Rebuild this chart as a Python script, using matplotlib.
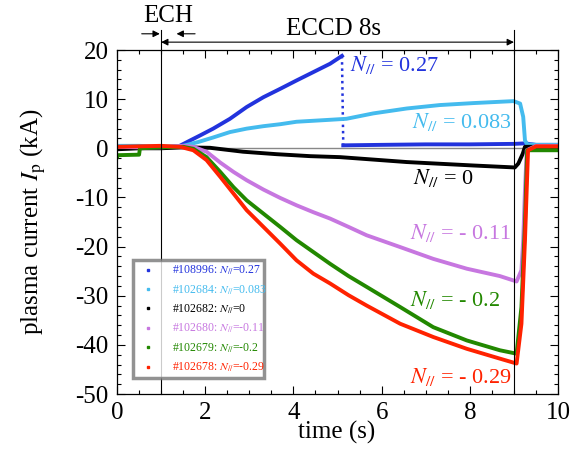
import matplotlib
matplotlib.use('Agg')
import matplotlib.pyplot as plt
from matplotlib.lines import Line2D
from matplotlib.ticker import MultipleLocator

plt.rcParams['font.family'] = ['Liberation Serif', 'DejaVu Serif']
plt.rcParams['mathtext.fontset'] = 'stix'

# shot data (time in s, Ip in kA)
t_blue = [0, 0.5, 1.0, 1.4, 1.66, 1.88, 2.18, 2.56, 2.94, 3.32, 3.70, 4.07, 4.45, 4.83, 5.1]
ip_blue = [0.2, 0.1, 0.1, 0.4, 1.6, 2.6, 4.0, 6.0, 8.4, 10.4, 12.1, 13.8, 15.5, 17.2, 18.8]
t_blue_drop = [5.1, 5.13]
ip_blue_drop = [18.8, 0.6]
t_blue2 = [5.13, 6, 7, 8, 9, 9.25, 9.5, 10]
ip_blue2 = [0.6, 0.7, 0.8, 0.8, 0.9, 1.0, 0.7, 0.7]

t_lblue = [0, 0.5, 1, 1.5, 1.85, 2.18, 2.56, 2.94, 3.32, 3.70, 4.07, 4.45, 4.83, 5.2,
           5.81, 6.57, 7.32, 8.08, 8.99, 9.14, 9.21, 9.25, 9.3, 9.5, 10]
ip_lblue = [0.5, 0.5, 0.3, 0.5, 1.3, 2.2, 3.3, 4.0, 4.5, 4.9, 5.4, 5.6, 5.8, 6.0,
            7.1, 8.1, 8.8, 9.2, 9.6, 9.1, 6.4, 1.6, 0.8, 0.7, 0.7]

t_black = [0, 0.5, 1, 1.5, 2.11, 2.86, 3.62, 4.38, 5.06, 6.57, 8.08, 9.02, 9.1, 9.2,
           9.25, 9.5, 10]
ip_black = [-0.2, 0, 0, 0.2, 0.1, -0.7, -1.2, -1.6, -1.8, -2.8, -3.5, -3.9, -3.1, -1.1,
            0.3, 0.3, 0.3]

t_purple = [0, 0.5, 1, 1.5, 1.73, 2.03, 2.34, 2.64, 2.94, 3.32, 3.70, 4.07, 4.45, 4.83,
            5.25, 5.66, 6.42, 7.17, 7.93, 8.68, 9.06, 9.17, 9.21, 9.25, 9.29, 9.5, 10]
ip_purple = [0.3, 0.2, 0.2, 0.5, 0.3, -0.7, -2.9, -4.8, -6.5, -8.4, -10.1, -11.6, -13.0,
             -14.3, -16.0, -17.7, -20.1, -22.5, -24.5, -26.0, -27.1, -24.8, -18.7, -8.5,
             -0.4, 0.5, 0.5]

t_green = [0, 0.02, 0.5, 0.52, 1, 1.5, 1.73, 2.03, 2.34, 2.64, 2.94, 3.32, 3.70, 4.07,
           4.45, 4.83, 5.25, 5.66, 6.42, 7.17, 7.93, 8.68, 9.06, 9.17, 9.25, 9.3, 9.5, 10]
ip_green = [-1.8, -1.4, -1.3, 0, 0.2, 0.3, -0.1, -1.8, -4.8, -7.9, -10.6, -13.3, -16.0,
            -18.7, -21.1, -23.5, -26.0, -28.2, -32.3, -36.4, -39.1, -41.1, -41.8, -32.3,
            -15.3, -0.4, -0.4, -0.4]

t_red = [0, 0.5, 1, 1.43, 1.73, 2.03, 2.34, 2.64, 2.94, 3.32, 3.70, 4.07, 4.45, 4.83,
         5.25, 5.66, 6.42, 7.17, 7.93, 8.68, 9.06, 9.17, 9.25, 9.32, 9.5, 10]
ip_red = [0.3, 0.4, 0.5, 0.3, -0.4, -2.4, -5.8, -9.2, -12.6, -16.0, -19.4, -22.8, -25.5,
          -27.5, -29.9, -32.0, -35.7, -38.4, -40.8, -42.8, -43.8, -35.7, -18.7, -0.4,
          0.4, 0.4]

c_blue = '#2233dd'
c_lblue = '#44bbee'
c_black = '#000000'
c_purple = '#c777e0'
c_green = '#228800'
c_red = '#ff2200'

shots = ['#108996', '#102684', '#102682', '#102680', '#102679', '#102678']
npar_leg = ['0.27', '0.083', '0', '-0.11', '-0.2', '-0.29']
colors = [c_blue, c_lblue, c_black, c_purple, c_green, c_red]

fig = plt.figure(figsize=(5.86, 4.70), dpi=100)
ax = fig.add_axes([0.1997, 0.1617, 0.7526, 0.7319])

ax.axhline(0, color='#888888', lw=1.0, zorder=1)

lw = 2.8
ax.plot(t_blue, ip_blue, color=c_blue, lw=lw)
ax.plot(t_blue_drop, ip_blue_drop, color=c_blue, lw=1.8, ls=(0, (1, 1.5)))
ax.plot(t_blue2, ip_blue2, color=c_blue, lw=lw)
ax.plot(t_lblue, ip_lblue, color=c_lblue, lw=lw)
ax.plot(t_black, ip_black, color=c_black, lw=lw)
ax.plot(t_purple, ip_purple, color=c_purple, lw=lw)
ax.plot(t_green, ip_green, color=c_green, lw=lw)
ax.plot(t_red, ip_red, color=c_red, lw=lw)

# ECH / ECCD timing markers
ax.plot([1, 1], [-50, 24], color='k', lw=0.8, clip_on=False, zorder=5)
ax.plot([9, 9], [-50, 24], color='k', lw=0.8, clip_on=False, zorder=5)
ax.annotate('', xy=(1, 21.6), xytext=(9, 21.6), annotation_clip=False,
            arrowprops=dict(arrowstyle='<|-|>', color='k', lw=0.8, mutation_scale=10,
                            shrinkA=0, shrinkB=0))
ax.annotate('', xy=(0.97, 23.3), xytext=(0.56, 23.3), annotation_clip=False,
            arrowprops=dict(arrowstyle='-|>', color='k', lw=0.8, mutation_scale=10,
                            shrinkA=0, shrinkB=0))
ax.annotate('', xy=(1.35, 23.3), xytext=(1.77, 23.3), annotation_clip=False,
            arrowprops=dict(arrowstyle='-|>', color='k', lw=0.8, mutation_scale=10,
                            shrinkA=0, shrinkB=0))
ax.text(1.16, 27.0, 'ECH', fontsize=18, ha='center', va='center', clip_on=False)
ax.text(4.9, 24.2, 'ECCD 8s', fontsize=18, ha='center', va='center', clip_on=False)

# curve labels
fs = 16
ax.text(5.28, 16.9, r'$N_{//}$ = 0.27', color=c_blue, fontsize=fs, va='center')
ax.text(6.68, 5.4, r'$N_{//}$ = 0.083', color=c_lblue, fontsize=fs, va='center')
ax.text(6.71, -6.1, r'$N_{//}$ = 0', color=c_black, fontsize=fs, va='center')
ax.text(6.64, -17.3, r'$N_{//}$ = - 0.11', color=c_purple, fontsize=fs, va='center')
ax.text(6.64, -30.9, r'$N_{//}$ = - 0.2', color=c_green, fontsize=fs, va='center')
ax.text(6.64, -46.5, r'$N_{//}$ = - 0.29', color=c_red, fontsize=fs, va='center')

ax.set_xlim(0, 10)
ax.set_ylim(-50, 20)
ax.xaxis.set_major_locator(MultipleLocator(2))
ax.xaxis.set_minor_locator(MultipleLocator(0.5))
ax.yaxis.set_minor_locator(MultipleLocator(2))
ax.set_yticks([-50, -40, -30, -20, -10, 0, 10, 20])
ax.set_yticklabels(['-50', '-40', '-30', '-20', '-10', '0', '10', '20'])
ax.tick_params(which='both', direction='in', top=True, right=True, labelsize=18)
ax.tick_params(which='major', length=6, width=0.8)
ax.tick_params(which='minor', length=3, width=0.8)
ax.tick_params(axis='x', pad=6)
ax.tick_params(axis='y', pad=6)
for s in ax.spines.values():
    s.set_linewidth(0.9)

fig.text(33 / 586, 0.528, r'plasma current $I_{\rm p}$ (kA)', rotation=90,
         fontsize=18, ha='center', va='center')
fig.text(337 / 586, 0.079, 'time (s)', fontsize=18, ha='center', va='center')

handles = [Line2D([], [], ls='none', marker='s', ms=2, color=c, mec=c) for c in colors]
labels = ['%s: $N_{//}$=%s' % (s, n) for s, n in zip(shots, npar_leg)]
leg = ax.legend(handles, labels, loc='lower left', bbox_to_anchor=(0.023, 0.03, 0.324, 0.3),
                mode='expand', fontsize=8.5, frameon=True, fancybox=False, borderpad=0.3,
                labelspacing=0.5, handlelength=2.0, handletextpad=1.0)
leg.get_frame().set_edgecolor('#777777')
leg.get_frame().set_linewidth(2.5)
for txt, c in zip(leg.get_texts(), colors):
    txt.set_color(c)

fig.savefig('out.png', dpi=100)
